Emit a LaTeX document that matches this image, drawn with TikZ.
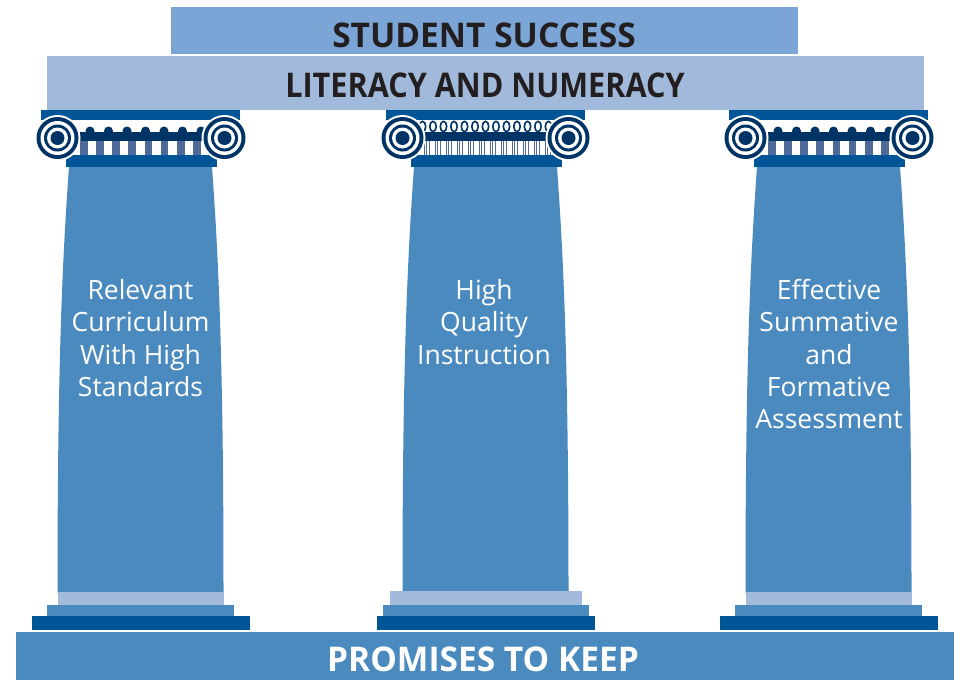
\documentclass[tikz,border=0pt]{standalone}
\usepackage{fontspec}
\setmainfont{Open Sans}
\definecolor{topbox}{HTML}{7BA5D6}
\definecolor{litbox}{HTML}{A1BADB}
\definecolor{dkblue}{HTML}{005596}
\definecolor{shaftc}{HTML}{4A8ABF}
\definecolor{navy}{HTML}{003466}
\definecolor{flute}{HTML}{4F6B9A}
\definecolor{lite}{HTML}{A2BBDD}
\definecolor{txt}{HTML}{231F20}
\newcommand\myvolute[2]{%
  \fill[white] (#1,#2) circle[radius=23pt];
  \fill[navy] (#1,#2) circle[radius=21pt];
  \fill[white] (#1,#2) circle[radius=17pt];
  \fill[navy] (#1,#2) circle[radius=13.5pt];
  \fill[white] (#1,#2) circle[radius=10.5pt];
  \fill[navy] (#1,#2) circle[radius=7pt];}
\newcommand\mybody{%
  \fill[shaftc] (-71.5,167) .. controls (-79,270) and (-83,380) .. (-83,593)
     -- (83,593) .. controls (83,380) and (79,270) .. (71.5,167) -- cycle;
  \fill[dkblue] (-99.5,110) rectangle (99.5,119.5);
  \fill[navy] (-83,132) rectangle (83,141);
  \fill[dkblue] (-75,155) rectangle (76,167);}
\begin{document}
\begin{tikzpicture}[x=1pt,y=-1pt,
  titletext/.style={font=\fontsize{34}{40}\selectfont\bfseries,text=txt,inner sep=0pt},
  coltext/.style={font=\fontsize{26.5}{32.2}\selectfont,text=white,align=center,inner sep=0pt}]
\useasboundingbox (0,0) rectangle (958,680);
% top boxes
\fill[topbox] (171,7) rectangle (798,54);
\fill[litbox] (47,56) rectangle (924,109.5);
\node[titletext] (ss) at (484,35) {\scalebox{0.985}[1]{STUDENT SUCCESS}};
\node[titletext] (ln) at (485,85) {\scalebox{0.9}[1]{LITERACY AND NUMERACY}};
% bottom bar
\fill[shaftc] (16,632) rectangle (954,680);
\node[titletext,text=white] (pk) at (483,659) {\scalebox{0.985}[1]{PROMISES TO KEEP}};
% left and right columns
\foreach \cx in {140.5,828.5}{
  \begin{scope}[xshift=\cx pt]
    \mybody
    \foreach \i in {0,...,7}{\fill[flute] ({-60.5+16.15*\i},141) rectangle ++(7.7,14);}
    \foreach \i in {0,...,6}{\fill[navy] ({-50.5+18.5*\i},131) circle[radius=4.5pt];}
    \myvolute{-83}{138}
    \myvolute{84}{138}
    \fill[lite] (-83,592) rectangle (83,605);
    \fill[shaftc] (-93.5,605) rectangle (93.5,616);
    \fill[dkblue] (-109,616) rectangle (109,630);
  \end{scope}}
% middle column
\begin{scope}[xshift=485.5pt]
  \mybody
  \foreach \i in {0,...,11}{
    \foreach \d in {0,2.6,5.2}{\fill[flute] ({-62+11*\i+\d},141) rectangle ++(1.3,14);}}
  \foreach \i in {0,...,12}{\draw[navy,line width=1.6pt,fill=white] ({-63+10.5*\i},126.5) ellipse[x radius=3.2pt,y radius=5.2pt];}
  \myvolute{-83}{138}
  \myvolute{83}{138}
  \fill[lite] (-96,591) rectangle (96,605);
  \fill[shaftc] (-103,605) rectangle (103,616);
  \fill[dkblue] (-109,616) rectangle (109,630);
\end{scope}
% column texts
\node[coltext] (c1) at (140.5,338) {Relevant\\Curriculum\\With High\\Standards};
\node[coltext] (c2) at (484,322) {High\\Quality\\Instruction};
\node[coltext] (c3) at (829,354) {Effective\\Summative\\and\\Formative\\Assessment};
\end{tikzpicture}
\end{document}
